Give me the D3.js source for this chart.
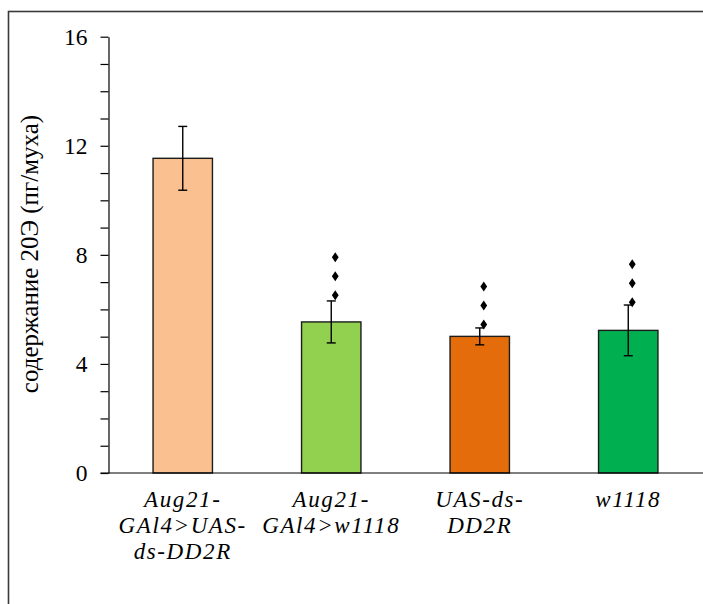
<!DOCTYPE html>
<html>
<head>
<meta charset="utf-8">
<script src="https://cdn.jsdelivr.net/npm/d3@7"></script>
<style>
  html, body { margin: 0; padding: 0; background: #fff; }
  svg { display: block; }
</style>
</head>
<body>
<svg id="chart" width="703" height="604"></svg>
<script>
// data
const categories = ["Aug21-GAl4>UAS-ds-DD2R", "Aug21-GAl4>w1118", "UAS-ds-DD2R", "w1118"];
const categoryLines = [
  ["Aug21-", "GAl4>UAS-", "ds-DD2R"],
  ["Aug21-", "GAl4>w1118"],
  ["UAS-ds-", "DD2R"],
  ["w1118"]
];
const means = [11.54, 5.54, 5.01, 5.23];
const errors = [1.17, 0.77, 0.31, 0.93];
const barColors = ["#FAC090", "#92D050", "#E46C0A", "#00B050"];
// lowest of the three significance diamonds, in y units (null = none)
const markBase = [null, 6.52, 5.45, 6.26];
const yTicks = [0, 4, 8, 12, 16];
const yTitle = "содержание 20Э (пг/муха)";

const SERIF = "'Liberation Serif', 'Times New Roman', Times, serif";

const svg = d3.select("#chart");

// outer frame (runs off the right and bottom edges)
svg.append("rect")
  .attr("x", 8.5).attr("y", 11.5)
  .attr("width", 760).attr("height", 700)
  .attr("fill", "none")
  .attr("stroke", "#3a3a3a")
  .attr("stroke-width", 1.6);

const plot = { left: 108.5, right: 703, top: 36.7, bottom: 473 };

const x = d3.scaleBand()
  .domain(categories)
  .range([plot.left, plot.left + 4 * 148.5])
  .paddingInner(0.6)
  .paddingOuter(0.3);

const y = d3.scaleLinear().domain([0, 16]).range([plot.bottom, plot.top]);

// y axis: minor ticks every 1, labels every 4
const yAxis = d3.axisLeft(y)
  .tickValues(d3.range(0, 17))
  .tickSize(8)
  .tickSizeOuter(0)
  .tickFormat(() => "");

const yG = svg.append("g")
  .attr("transform", `translate(${plot.left},0)`)
  .call(yAxis);
yG.select(".domain").attr("stroke", "#000").attr("stroke-width", 1.2);
yG.selectAll(".tick line").attr("stroke", "#000").attr("stroke-width", 1.2);

svg.append("g").selectAll("text")
  .data(yTicks)
  .join("text")
  .attr("font-family", SERIF)
  .attr("font-size", 23.5)
  .attr("x", plot.left - 21)
  .attr("y", (d) => y(d))
  .attr("dy", "0.35em")
  .attr("text-anchor", "end")
  .text((d) => d);

// bars
const rows = categories.map((c, i) => ({
  cat: c, mean: means[i], err: errors[i], color: barColors[i], mark: markBase[i], lines: categoryLines[i]
}));

svg.append("g").selectAll("rect")
  .data(rows)
  .join("rect")
  .attr("x", (d) => x(d.cat))
  .attr("y", (d) => y(d.mean))
  .attr("width", x.bandwidth())
  .attr("height", (d) => y(0) - y(d.mean))
  .attr("fill", (d) => d.color)
  .attr("stroke", "#1c1c1c")
  .attr("stroke-width", 1.4);

// x axis line
svg.append("line")
  .attr("x1", plot.left - 8).attr("x2", plot.right)
  .attr("y1", plot.bottom).attr("y2", plot.bottom)
  .attr("stroke", "#000")
  .attr("stroke-width", 1.2);

// error bars
const eb = svg.append("g").selectAll("g")
  .data(rows)
  .join("g")
  .attr("transform", (d) => `translate(${x(d.cat) + x.bandwidth() / 2},0)`)
  .attr("stroke", "#000")
  .attr("stroke-width", 1.4);

eb.append("line")
  .attr("y1", (d) => y(d.mean + d.err))
  .attr("y2", (d) => y(d.mean - d.err));
eb.append("line")
  .attr("x1", -4.5).attr("x2", 4.5)
  .attr("y1", (d) => y(d.mean + d.err))
  .attr("y2", (d) => y(d.mean + d.err));
eb.append("line")
  .attr("x1", -4.5).attr("x2", 4.5)
  .attr("y1", (d) => y(d.mean - d.err))
  .attr("y2", (d) => y(d.mean - d.err));

// significance diamonds, three stacked above the error bar
const diamond = "M0,-5 L3.4,0 L0,5 L-3.4,0 Z";
svg.append("g").selectAll("g")
  .data(rows.filter((d) => d.mark != null))
  .join("g")
  .attr("transform", (d) => `translate(${x(d.cat) + x.bandwidth() / 2 + 4},${y(d.mark)})`)
  .selectAll("path")
  .data([0, 1, 2])
  .join("path")
  .attr("d", diamond)
  .attr("transform", (k) => `translate(0,${-k * 19})`)
  .attr("fill", "#000");

// category labels
const catG = svg.append("g").selectAll("text")
  .data(rows)
  .join("text")
  .attr("font-family", SERIF)
  .attr("font-size", 23)
  .attr("font-style", "italic")
  .attr("letter-spacing", 1.6)
  .attr("text-anchor", "middle")
  .attr("x", (d) => x(d.cat) + x.bandwidth() / 2)
  .attr("y", 507);

catG.selectAll("tspan")
  .data((d) => d.lines.map((t) => ({ t, cx: x(d.cat) + x.bandwidth() / 2 })))
  .join("tspan")
  .attr("x", (d) => d.cx)
  .attr("dy", (d, i) => (i === 0 ? 0 : 26))
  .text((d) => d.t);

// y title
svg.append("text")
  .attr("font-family", SERIF)
  .attr("font-size", 25)
  .attr("text-anchor", "middle")
  .attr("transform", "translate(38,254) rotate(-90)")
  .text(yTitle);
</script>
</body>
</html>
